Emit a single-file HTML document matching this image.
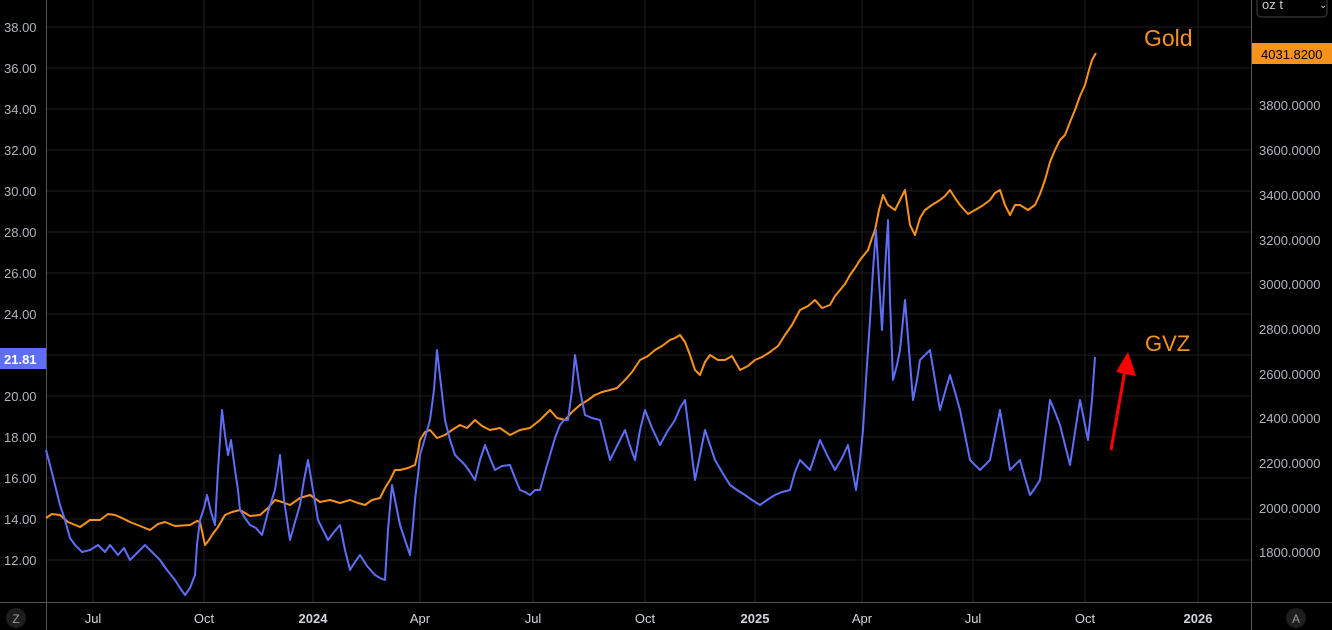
<!DOCTYPE html>
<html><head><meta charset="utf-8"><style>
html,body{margin:0;padding:0;background:#000;width:1332px;height:630px;overflow:hidden;font-family:"Liberation Sans",sans-serif}
</style></head><body>
<svg width="1332" height="630" xmlns="http://www.w3.org/2000/svg" font-family="Liberation Sans, sans-serif">
<rect width="1332" height="630" fill="#000"/>
<g stroke="#1e1e1e" stroke-width="1">
<line x1="46" y1="27" x2="1251" y2="27"/><line x1="46" y1="68" x2="1251" y2="68"/><line x1="46" y1="109" x2="1251" y2="109"/><line x1="46" y1="150" x2="1251" y2="150"/><line x1="46" y1="191" x2="1251" y2="191"/><line x1="46" y1="232" x2="1251" y2="232"/><line x1="46" y1="273" x2="1251" y2="273"/><line x1="46" y1="314" x2="1251" y2="314"/><line x1="46" y1="355" x2="1251" y2="355"/><line x1="46" y1="396" x2="1251" y2="396"/><line x1="46" y1="437" x2="1251" y2="437"/><line x1="46" y1="478" x2="1251" y2="478"/><line x1="46" y1="519" x2="1251" y2="519"/><line x1="46" y1="560" x2="1251" y2="560"/>
<line x1="93" y1="0" x2="93" y2="602"/><line x1="204" y1="0" x2="204" y2="602"/><line x1="313" y1="0" x2="313" y2="602"/><line x1="420" y1="0" x2="420" y2="602"/><line x1="533" y1="0" x2="533" y2="602"/><line x1="645" y1="0" x2="645" y2="602"/><line x1="755" y1="0" x2="755" y2="602"/><line x1="862" y1="0" x2="862" y2="602"/><line x1="973" y1="0" x2="973" y2="602"/><line x1="1085" y1="0" x2="1085" y2="602"/><line x1="1198" y1="0" x2="1198" y2="602"/>
</g>
<line x1="46.5" y1="0" x2="46.5" y2="630" stroke="#555"/>
<line x1="1251.5" y1="0" x2="1251.5" y2="630" stroke="#555"/>
<line x1="0" y1="602.5" x2="1332" y2="602.5" stroke="#555"/>
<polyline fill="none" stroke="#f7931a" stroke-width="2" stroke-linejoin="round" points="46,518 52,514 60,515 68,522 80,527 90,520 100,520 108,514 115,515 122,518 130,522 140,526 150,530 158,524 165,522 175,526 190,525 197,521 200,522 205,545 209,540 212,535 218,527 225,515 232,512 240,510 250,516 260,515 268,508 275,500 282,502 290,505 300,498 310,495 320,502 330,500 340,503 350,500 358,503 365,505 372,500 380,498 385,488 390,480 395,470 400,470 408,468 415,465 418,452 420,440 425,432 430,430 437,438 445,435 452,430 460,425 467,428 475,420 482,426 490,430 500,428 510,435 520,430 530,428 540,420 550,410 557,418 565,420 572,412 580,405 588,400 595,395 602,392 610,390 617,388 625,380 632,372 640,360 648,356 655,350 662,346 670,340 675,338 680,335 685,342 690,355 695,370 700,375 705,362 710,355 718,360 725,360 732,356 740,370 748,366 755,360 762,357 770,352 778,346 785,335 792,325 800,310 808,306 815,300 822,308 830,305 835,296 840,290 845,284 850,275 855,268 860,260 864,255 868,250 872,238 875,230 879,210 883,195 888,205 895,210 900,200 905,190 910,225 915,235 920,218 925,210 932,205 940,200 945,196 950,190 955,198 960,205 968,214 975,210 982,206 990,200 995,193 1000,190 1005,205 1010,215 1015,205 1020,205 1028,210 1035,205 1040,194 1045,180 1050,162 1055,150 1060,140 1065,135 1070,122 1075,110 1080,96 1085,85 1089,70 1092,60 1096,53"/>
<polyline fill="none" stroke="#5e6ef5" stroke-width="2" stroke-linejoin="round" points="46,450 50,465 55,485 60,505 65,520 70,538 75,545 82,552 90,550 98,545 105,552 110,545 118,555 124,548 130,560 138,552 145,545 152,552 160,560 167,570 175,580 180,588 185,595 190,588 195,575 197,545 200,520 204,508 207,495 211,512 215,525 218,470 222,410 225,435 228,455 231,440 235,470 238,490 240,510 245,518 250,525 256,528 262,535 268,512 275,490 278,470 280,455 284,500 290,540 295,522 300,505 304,480 308,460 313,490 318,520 323,530 328,540 334,532 340,525 345,550 350,570 355,562 360,555 367,566 375,575 380,578 385,580 388,530 392,485 396,505 400,525 405,540 410,555 413,525 415,500 418,475 420,455 425,438 430,420 434,390 437,350 441,385 445,420 450,440 455,455 460,460 465,465 470,472 475,480 480,460 485,445 490,458 495,470 502,466 510,465 515,478 520,490 525,492 530,495 535,490 540,490 545,472 550,455 555,438 560,425 564,420 568,420 572,390 575,355 580,390 585,415 592,418 600,420 605,440 610,460 617,446 625,430 630,446 635,460 640,430 645,410 652,428 660,445 667,432 675,420 680,408 685,400 690,440 695,480 700,455 705,430 710,445 715,460 722,472 730,485 737,490 745,495 752,500 760,505 767,500 775,495 782,492 790,490 795,472 800,460 805,465 810,470 815,455 820,440 827,455 835,470 842,458 848,445 852,468 856,490 860,460 863,430 866,380 870,320 873,270 876,230 879,280 882,330 885,270 888,220 890,300 893,380 897,365 900,350 903,320 905,300 909,350 913,400 917,380 920,360 925,355 930,350 935,380 940,410 945,392 950,375 955,392 960,410 965,435 970,460 975,465 980,470 985,465 990,460 995,435 1000,410 1005,440 1010,470 1015,465 1020,460 1025,478 1030,495 1035,488 1040,480 1045,440 1050,400 1055,412 1060,425 1065,445 1070,465 1075,432 1080,400 1084,420 1088,440 1090,420 1092,400 1095,357"/>
<g fill="#b2b5be" font-size="13" text-anchor="start">
<text x="4" y="32">38.00</text><text x="4" y="73">36.00</text><text x="4" y="114">34.00</text><text x="4" y="155">32.00</text><text x="4" y="196">30.00</text><text x="4" y="237">28.00</text><text x="4" y="278">26.00</text><text x="4" y="319">24.00</text><text x="4" y="401">20.00</text><text x="4" y="442">18.00</text><text x="4" y="483">16.00</text><text x="4" y="524">14.00</text><text x="4" y="565">12.00</text>
<text x="1259" y="110">3800.0000</text><text x="1259" y="155">3600.0000</text><text x="1259" y="200">3400.0000</text><text x="1259" y="245">3200.0000</text><text x="1259" y="289">3000.0000</text><text x="1259" y="334">2800.0000</text><text x="1259" y="379">2600.0000</text><text x="1259" y="423">2400.0000</text><text x="1259" y="468">2200.0000</text><text x="1259" y="513">2000.0000</text><text x="1259" y="557">1800.0000</text>
</g>
<rect x="0" y="348" width="46" height="21" fill="#5e6ef5"/>
<text x="4" y="364" fill="#fff" font-size="13" font-weight="bold">21.81</text>
<rect x="1252" y="43" width="80" height="21" fill="#f7931a"/>
<text x="1261" y="59" fill="#000" font-size="13">4031.8200</text>
<rect x="1257" y="-6" width="70" height="23" rx="4" fill="none" stroke="#444"/>
<text x="1262" y="9" fill="#ccc" font-size="13">oz t</text>
<text x="1319" y="8" fill="#ccc" font-size="10">⌄</text>
<g fill="#d1d4dc" font-size="13" text-anchor="middle">
<text x="93" y="623">Jul</text><text x="204" y="623">Oct</text><text x="313" y="623" font-weight="bold">2024</text><text x="420" y="623">Apr</text><text x="533" y="623">Jul</text><text x="645" y="623">Oct</text><text x="755" y="623" font-weight="bold">2025</text><text x="862" y="623">Apr</text><text x="973" y="623">Jul</text><text x="1085" y="623">Oct</text><text x="1198" y="623" font-weight="bold">2026</text>
</g>
<circle cx="16" cy="618" r="10" fill="#1e1e1e"/><text x="16" y="623" fill="#999" font-size="12" text-anchor="middle">Z</text>
<circle cx="1296" cy="618" r="10" fill="#1e1e1e"/><text x="1296" y="623" fill="#999" font-size="12" text-anchor="middle">A</text>
<text x="1144" y="46" fill="#f7931a" font-size="23">Gold</text>
<text x="1145" y="351" fill="#f7931a" font-size="22">GVZ</text>
<line x1="1111" y1="450" x2="1125" y2="370" stroke="#ff0000" stroke-width="3"/>
<polygon points="1128,352 1136,376 1116,372" fill="#ff0000"/>
</svg>
</body></html>
